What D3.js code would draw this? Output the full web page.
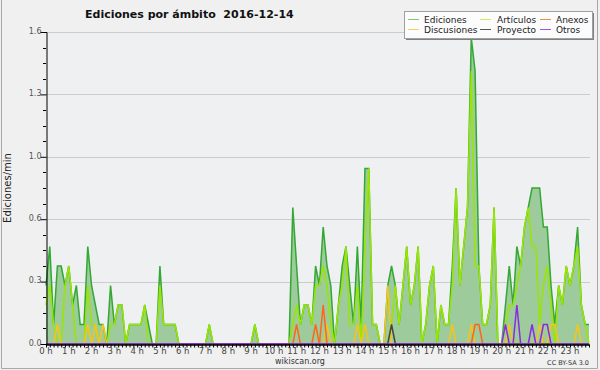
<!DOCTYPE html>
<html><head><meta charset="utf-8">
<script src="https://cdn.jsdelivr.net/npm/d3@7"></script>
<style>
body{margin:0;background:#f0f0f0}
svg{display:block}
text{font-family:"DejaVu Sans",sans-serif}
</style>
</head><body>
<svg id="c" width="600" height="370"></svg>
<script>
const title = "Ediciones por ámbito  2016-12-14";
const yAxisLabel = "Ediciones/min";
const hourLabels = ["0 h","1 h","2 h","3 h","4 h","5 h","6 h","7 h","8 h","9 h","10 h","11 h","12 h","13 h","14 h","15 h","16 h","17 h","18 h","19 h","20 h","21 h","22 h","23 h"];
const yTickValues = [0, 0.32, 0.64, 0.96, 1.28, 1.6];
const yTickLabels = ["0.0","0.3","0.6","1.0","1.3","1.6"];
const seriesNames = ["Ediciones","Artículos","Anexos","Discusiones","Proyecto","Otros"];

// 10-minute slots (144), edits per minute
const ediciones = [
0.3,0.5,0.1,0.4,0.4,0.3,0.4,0.2,0.3,0.1,0.1,0.5,0.3,0.2,0.1,0.1,0,0.3,0.1,0.2,0.2,0,0.1,0.1,
0.1,0.1,0.2,0.1,0,0,0.4,0.1,0.1,0.1,0.1,0,0,0,0,0,0,0,0,0.1,0,0,0,0,
0,0,0,0,0,0,0,0.1,0,0,0,0,0,0,0,0,0,0.7,0.4,0.1,0.2,0.2,0.1,0.4,
0.3,0.6,0.4,0.3,0,0.2,0.4,0.5,0.3,0.1,0.5,0.1,0.9,0.9,0.1,0.1,0,0,0.3,0.4,0.3,0.1,
0.3,0.5,0.2,0.3,0.5,0,0.1,0.3,0.4,0,0.2,0.1,0.1,0.4,0.8,0.3,0.5,0.7,1.57,1.4,0.4,0.1,
0.1,0.2,0.7,0,0,0.2,0.4,0.2,0.5,0.4,0.6,0.7,0.8,0.8,0.8,0.6,0.6,0.3,0.1,0.3,0.2,0.4,0.3,0.4,
0.6,0.2,0.1,0.1];
const articulos = [
0.2,0.3,0.1,0,0,0.3,0.4,0.2,0,0,0,0.3,0.1,0.1,0,0,0,0.1,0.1,0.2,0.2,0,0.1,0.1,
0.1,0.1,0.2,0,0,0,0.3,0.1,0.1,0.1,0.1,0,0,0,0,0,0,0,0,0.1,0,0,0,0,
0,0,0,0,0,0,0,0.1,0,0,0,0,0,0,0,0,0,0.1,0.2,0.1,0.2,0.2,0.1,0.3,
0.3,0.4,0.3,0.1,0,0.2,0.3,0.5,0.1,0.1,0.3,0,0.5,0.9,0.1,0.1,0,0,0,0.1,0.3,0.1,
0.3,0.5,0.2,0.3,0.5,0,0.1,0.3,0.4,0,0.2,0.1,0.1,0.3,0.8,0.3,0.5,0.7,1.4,0.4,0.4,0.1,
0.1,0.2,0.7,0,0,0.1,0.2,0.2,0.3,0.4,0.6,0.7,0.5,0.5,0.1,0.3,0.4,0.2,0,0.3,0.2,0.4,0.3,0.4,
0.5,0.2,0.1,0];
const anexos = new Array(144).fill(0);
[[66,0.1],[71,0.1],[73,0.2],[113,0.1],[114,0.1]].forEach(([i,v])=>anexos[i]=v);
const discusiones = new Array(144).fill(0);
[[3,0.1],[11,0.1],[13,0.1],[15,0.1],[74,0.1],[82,0.1],[84,0.1],[90,0.3],[107,0.1],[112,0.1],[122,0.1],[130,0.1],[133,0.1],[134,0.1],[140,0.1]].forEach(([i,v])=>discusiones[i]=v);
const proyecto = new Array(144).fill(0);
[[91,0.1]].forEach(([i,v])=>proyecto[i]=v);
const otros = new Array(144).fill(0);
[[121,0.1],[124,0.2],[128,0.1],[131,0.1],[132,0.1]].forEach(([i,v])=>otros[i]=v);

const colors = {
  "Ediciones":"#33a833","Artículos":"#99e600","Anexos":"#ff6619",
  "Discusiones":"#f5c518","Proyecto":"#444444","Otros":"#8a2be2"
};
const legendColors = {
  "Ediciones":"#80c880","Artículos":"#c8ee60","Anexos":"#f08a55",
  "Discusiones":"#f5d060","Proyecto":"#555555","Otros":"#9955ee"
};
const dataBy = {"Ediciones":ediciones,"Artículos":articulos,"Anexos":anexos,"Discusiones":discusiones,"Proyecto":proyecto,"Otros":otros};

const svg = d3.select("#c");
const L = 46, R = 589, T = 32, B = 344;
const x = d3.scaleLinear().domain([0, 143]).range([L, R]);
const y = d3.scaleLinear().domain([0, 1.6]).range([B, T]);

// background
svg.append("rect").attr("x",0).attr("y",0).attr("width",600).attr("height",370).attr("fill","#f0f0f0");
svg.append("path").attr("d","M1.5,0 V368.5 H597.5 V0").attr("fill","none").attr("stroke","#a8a8a8");
svg.append("rect").attr("x",L).attr("y",T).attr("width",R-L+1).attr("height",B-T).attr("fill","#eef0f2");

// gridlines
svg.append("g").selectAll("line").data(yTickValues.slice(1)).join("line")
  .attr("x1",L).attr("x2",R+1).attr("y1",d=>Math.round(y(d))+0.5).attr("y2",d=>Math.round(y(d))+0.5)
  .attr("stroke","#cccccc").attr("stroke-width",1);

// area
const area = d3.area().x((d,i)=>x(i)).y0(y(0)).y1(d=>y(d));
svg.append("path").datum(ediciones).attr("d",area).attr("fill","#9dcb9b");

const line = d3.line().x((d,i)=>x(i)).y(d=>y(d));
["Ediciones","Artículos","Discusiones","Anexos","Proyecto","Otros"].forEach(n=>{
  svg.append("path").datum(dataBy[n]).attr("d",line).attr("fill","none")
    .attr("stroke",colors[n]).attr("stroke-width",1.5).attr("stroke-linejoin","miter");
});

// y axis
const yAxis = d3.axisLeft(y).tickValues(yTickValues).tickSize(6).tickFormat((d,i)=>yTickLabels[i]);
const gy = svg.append("g").attr("transform",`translate(${L+0.5},0)`).call(yAxis);
gy.select(".domain").attr("stroke","#000");
gy.selectAll(".tick line").attr("stroke","#000");
gy.selectAll(".tick text").attr("fill","#555").attr("font-size",8).attr("font-family","DejaVu Sans").attr("dy","0.15em").attr("x",-5);
const minorY = d3.range(0, 21).map(k=>k*0.08).filter((d,k)=>k%4!==0);
svg.append("g").selectAll("line").data(minorY).join("line")
  .attr("x1",L-3).attr("x2",L).attr("y1",d=>Math.round(y(d))+0.5).attr("y2",d=>Math.round(y(d))+0.5)
  .attr("stroke","#000");

// x axis
const xAxis = d3.axisBottom(x).tickValues(d3.range(0,144)).tickSize(3).tickSizeOuter(0).tickFormat(()=>"");
const gx = svg.append("g").attr("transform",`translate(0,${B+0.5})`).call(xAxis);
gx.select(".domain").attr("stroke","#000").attr("stroke-width",1.5);
gx.selectAll(".tick line").attr("stroke","#000");
svg.append("g").selectAll("text").data(hourLabels).join("text")
  .attr("x",(d,i)=>x(i*6)).attr("y",354).attr("text-anchor","middle")
  .attr("font-size",8.5).attr("fill","#444").text(d=>d);

// y axis label
svg.append("text").attr("transform","translate(11,188) rotate(-90)").attr("text-anchor","middle")
  .attr("font-size",10).attr("fill","#222").attr("font-family","DejaVu Sans Mono").text(yAxisLabel);

// title
svg.append("text").attr("x",85).attr("y",18).attr("font-size",11).attr("font-weight","bold")
  .attr("fill","#111").style("white-space","pre").attr("xml:space","preserve").text(title);

// footer
svg.append("text").attr("x",300).attr("y",364).attr("text-anchor","middle").attr("font-size",8).attr("fill","#333").text("wikiscan.org");
svg.append("text").attr("x",589).attr("y",365).attr("text-anchor","end").attr("font-size",6.5).attr("fill","#333").text("CC BY-SA 3.0");

// legend
const lg = svg.append("g");
lg.append("rect").attr("x",406).attr("y",13).attr("width",188).attr("height",27).attr("fill","#808080");
lg.append("rect").attr("x",404.5).attr("y",11.5).attr("width",188).attr("height",27).attr("fill","#fcfcfc").attr("stroke","#a0a0a0");
const legendItems = [
  {n:"Ediciones",col:0,row:0},{n:"Artículos",col:1,row:0},{n:"Anexos",col:2,row:0},
  {n:"Discusiones",col:0,row:1},{n:"Proyecto",col:1,row:1},{n:"Otros",col:2,row:1}
];
const colX = [408, 480, 540];
const textX = [424, 497, 556];
legendItems.forEach(it=>{
  const yy = 19.5 + it.row*10;
  lg.append("line").attr("x1",colX[it.col]).attr("x2",colX[it.col]+11).attr("y1",yy).attr("y2",yy)
    .attr("stroke",legendColors[it.n]).attr("stroke-width",1);
  lg.append("text").attr("x",textX[it.col]).attr("y",yy+3.5).attr("font-size",9).attr("fill","#222").text(it.n);
});
</script>
</body></html>
